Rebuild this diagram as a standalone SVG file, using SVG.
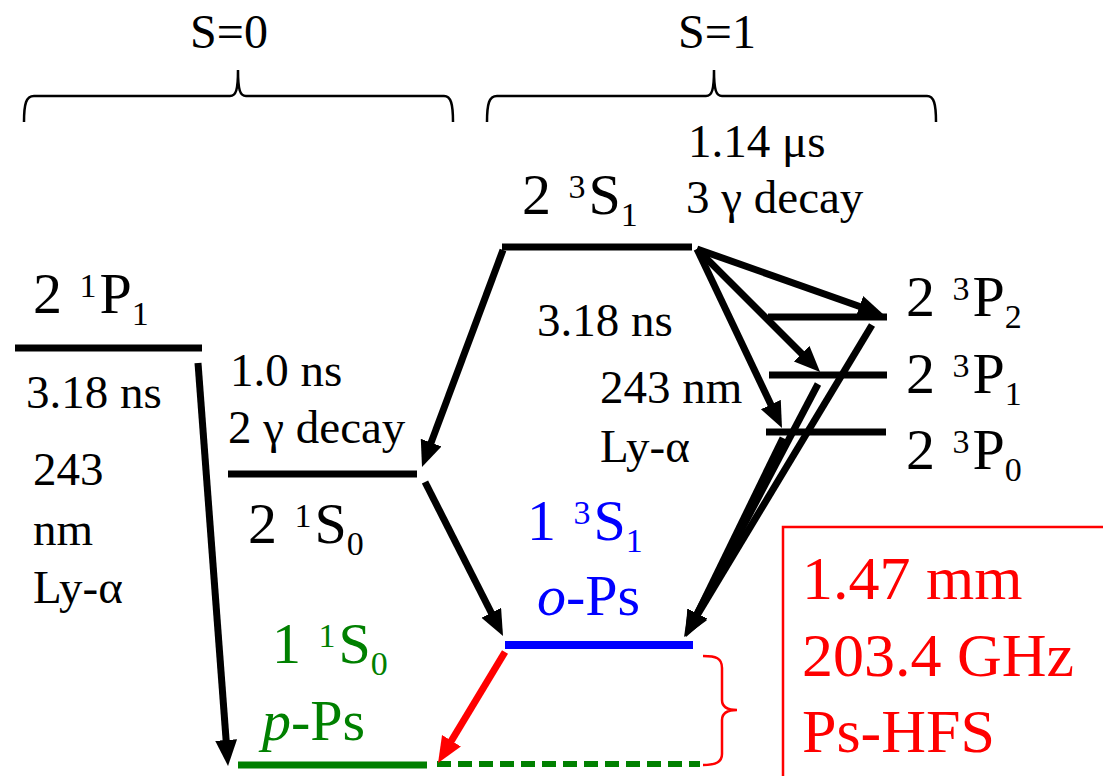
<svg xmlns="http://www.w3.org/2000/svg" width="1103" height="776" viewBox="0 0 1103 776">
<style>
text{font-family:'Liberation Serif','Times New Roman','DejaVu Serif',serif;fill:#000}
.big{font-size:58px}
.sm{font-size:47px}
.sup{font-size:34px}
.lvl{stroke:#000;stroke-width:7;fill:none}
.arr{stroke:#000;stroke-width:7;fill:none;marker-end:url(#ah)}
.brace{stroke:#000;stroke-width:2.5;fill:none}
.green{fill:#008000}
.blue{fill:#0000ff}
.red{fill:#ff0000}
</style>
<defs>
<marker id="ah" markerUnits="userSpaceOnUse" markerWidth="28" markerHeight="24" refX="16" refY="11" orient="auto">
<path d="M0,0 L26,11 L0,22 z" fill="#000"/>
</marker>
<marker id="ahr" markerUnits="userSpaceOnUse" markerWidth="28" markerHeight="24" refX="16" refY="11" orient="auto">
<path d="M0,0 L26,11 L0,22 z" fill="#ff0000"/>
</marker>
</defs>
<rect width="1103" height="776" fill="#fff"/>

<g id="spin-labels" font-family="Liberation Serif, serif">
<text class="sm" x="229" y="48" text-anchor="middle" style="font-size:48px">S=0</text>
<text class="sm" x="717" y="48" text-anchor="middle" style="font-size:48px">S=1</text>
<path class="brace" d="M24,122 C24,104 26,96 34,96 L230,96 C236,96 238,90 238,70 C238,90 240,96 246,96 L444,96 C451,96 453,104 453,122"/>
<path class="brace" d="M487,122 C487,104 489,96 497,96 L706,96 C712,96 714,90 714,70 C714,90 716,96 722,96 L927,96 C934,96 936,104 936,122"/>
</g>

<g id="level-2-1P1">
<line class="lvl" x1="15" y1="348" x2="202" y2="348"/>
<text class="big" x="33" y="313">2 <tspan class="sup" dx="3" dy="-16">1</tspan><tspan dx="3" dy="16">P</tspan><tspan class="sup" dy="12">1</tspan></text>
</g>

<g id="level-2-1S0">
<line class="lvl" x1="228" y1="474" x2="417" y2="474"/>
<text class="big" x="248" y="543">2 <tspan class="sup" dx="3" dy="-16">1</tspan><tspan dx="3" dy="16">S</tspan><tspan class="sup" dy="12">0</tspan></text>
</g>

<g id="level-2-3S1">
<line class="lvl" x1="502" y1="247" x2="692" y2="247"/>
<text class="big" x="522" y="214">2 <tspan class="sup" dx="3" dy="-16">3</tspan><tspan dx="3" dy="16">S</tspan><tspan class="sup" dy="12">1</tspan></text>
</g>

<g id="level-2-3P2">
<line class="lvl" x1="768" y1="317" x2="887" y2="317"/>
<text class="big" x="906" y="316">2 <tspan class="sup" dx="3" dy="-16">3</tspan><tspan dx="3" dy="16">P</tspan><tspan class="sup" dy="12">2</tspan></text>
</g>

<g id="level-2-3P1">
<line class="lvl" x1="769" y1="375" x2="887" y2="375"/>
<text class="big" x="906" y="393">2 <tspan class="sup" dx="3" dy="-16">3</tspan><tspan dx="3" dy="16">P</tspan><tspan class="sup" dy="12">1</tspan></text>
</g>

<g id="level-2-3P0">
<line class="lvl" x1="766" y1="432" x2="886" y2="432"/>
<text class="big" x="906" y="469">2 <tspan class="sup" dx="3" dy="-16">3</tspan><tspan dx="3" dy="16">P</tspan><tspan class="sup" dy="12">0</tspan></text>
</g>

<g id="level-o-Ps">
<line x1="505" y1="645" x2="693" y2="645" stroke="#0000ff" stroke-width="8"/>
<text class="big blue" x="527" y="540">1 <tspan class="sup" dx="3" dy="-16">3</tspan><tspan dx="3" dy="16">S</tspan><tspan class="sup" dy="12">1</tspan></text>
<text class="big blue" x="537" y="615"><tspan font-style="italic">o</tspan>-Ps</text>
</g>

<g id="level-p-Ps">
<line x1="238" y1="765" x2="427" y2="765" stroke="#008000" stroke-width="7"/>
<line x1="437" y1="764" x2="700" y2="764" stroke="#008000" stroke-width="6" stroke-dasharray="14 7"/>
<text class="big green" x="272" y="663">1 <tspan class="sup" dx="3" dy="-16">1</tspan><tspan dx="3" dy="16">S</tspan><tspan class="sup" dy="12">0</tspan></text>
<text class="big green" x="262" y="740"><tspan font-style="italic">p</tspan>-Ps</text>
</g>

<g id="annotations">
<text class="sm" x="26" y="408">3.18 ns</text>
<text class="sm" x="33" y="485">243</text>
<text class="sm" x="33" y="545">nm</text>
<text class="sm" x="33" y="603">Ly-α</text>
<text class="sm" x="230" y="386">1.0 ns</text>
<text class="sm" x="228" y="443">2 γ decay</text>
<text class="sm" x="688" y="157">1.14 μs</text>
<text class="sm" x="686" y="213">3 γ decay</text>
<text class="sm" x="537" y="336">3.18 ns</text>
<text class="sm" x="600" y="403">243 nm</text>
<text class="sm" x="600" y="462">Ly-α</text>
</g>

<g id="hfs-box">
<rect x="783" y="527" width="400" height="300" fill="none" stroke="#ff0000" stroke-width="2.5"/>
<text class="red" x="802" y="599" style="font-size:62px">1.47 mm</text>
<text class="red" x="802" y="676" style="font-size:62px">203.4 GHz</text>
<text class="red" x="802" y="752" style="font-size:62px">Ps-HFS</text>
</g>

<g id="connectors">
<line class="arr" x1="198" y1="363" x2="227.3" y2="756"/>
<line class="arr" x1="503" y1="250" x2="425.5" y2="457.6"/>
<line class="arr" x1="425" y1="482" x2="498.5" y2="627"/>
<line class="arr" x1="697" y1="249" x2="874.6" y2="311.7"/>
<line class="arr" x1="697" y1="249" x2="813" y2="365"/>
<line class="arr" x1="697" y1="249" x2="777.7" y2="419"/>
<line class="arr" x1="872" y1="325" x2="689.2" y2="628.4"/>
<line class="arr" x1="818" y1="384" x2="689.7" y2="628"/>
<line class="arr" x1="783" y1="438" x2="690.4" y2="628"/>
<line x1="505" y1="652" x2="443.2" y2="754.4" stroke="#ff0000" stroke-width="7" marker-end="url(#ahr)"/>
<path d="M703,656 C716,656 722,658 722,668 L722,700 C722,707 727,710 737,710 C727,710 722,713 722,720 L722,754 C722,762 716,765 703,765" fill="none" stroke="#ff0000" stroke-width="2.5"/>
</g>
</svg>
